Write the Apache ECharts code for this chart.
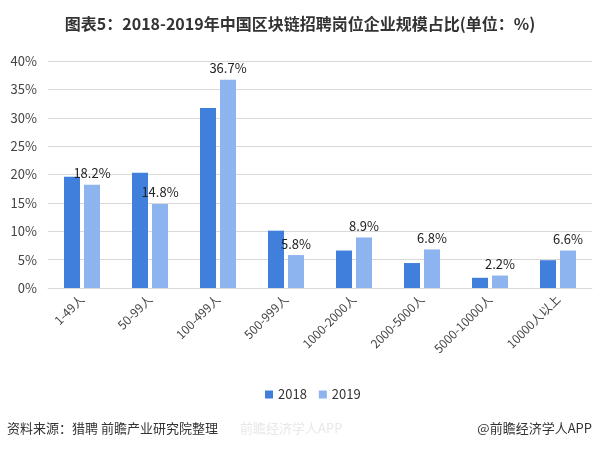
<!DOCTYPE html>
<html><head><meta charset="utf-8">
<script src="https://cdn.jsdelivr.net/npm/echarts@6/dist/echarts.min.js"></script>
<style>html,body{margin:0;padding:0;background:#fff}#c{width:600px;height:451px}</style>
</head><body><div id="c"></div>
<script>
var categories = ['1-49人','50-99人','100-499人','500-999人','1000-2000人','2000-5000人','5000-10000人','10000人以上'];
var values2018 = [19.6, 20.3, 31.7, 10.1, 6.6, 4.4, 1.8, 4.9];
var values2019 = [18.2, 14.8, 36.7, 5.8, 8.9, 6.8, 2.2, 6.6];
var yTicks = [0,5,10,15,20,25,30,35,40];
var font = '"Noto Sans CJK SC", "Noto Sans", sans-serif';
var chart = echarts.init(document.getElementById('c'));
chart.setOption({
  animation: false,
  backgroundColor: '#fff',
  title: [{
    text: '图表5：2018-2019年中国区块链招聘岗位企业规模占比(单位：%)',
    left: 'center', top: 11,
    textStyle: {fontFamily: font, fontSize: 16, fontWeight: 'bold', color: '#333'}
  }],
  graphic: [
    {type:'text', left: 7, top: 422, style:{text:'资料来源：猎聘 前瞻产业研究院整理', font:'13px "Noto Sans CJK SC"', fill:'#333'}},
    {type:'text', left: 240, top: 422, style:{text:'前瞻经济学人APP', font:'13px "Noto Sans CJK SC"', fill:'#e8e8e8'}},
    {type:'text', right: 8, top: 422, style:{text:'@前瞻经济学人APP', font:'13px "Noto Sans CJK SC"', fill:'#333'}}
  ],
  legend: {
    data: ['2018','2019'], top: 383, left: 260,
    itemWidth: 8, itemHeight: 8, itemGap: 12, icon: 'rect',
    textStyle: {fontFamily: font, fontSize: 13, color: '#333'}
  },
  grid: {left: 48, right: 8, top: 61, bottom: 163},
  xAxis: {
    type: 'category', data: categories,
    axisLine: {lineStyle: {color: '#d9d9d9'}},
    axisTick: {show: false},
    axisLabel: {rotate: 45, interval: 0, fontFamily: font, fontSize: 12, color: '#444', margin: 9}
  },
  yAxis: {
    type: 'value', min: 0, max: 40, interval: 5,
    axisLine: {show: false}, axisTick: {show: false},
    splitLine: {lineStyle: {color: '#d9d9d9'}},
    axisLabel: {formatter: function(v){return v+'%';}, fontFamily: font, fontSize: 13, color: '#444', margin: 11}
  },
  series: [
    {name: '2018', type: 'bar', data: values2018, barWidth: 16, barGap: '25%',
     itemStyle: {color: '#4080dc'}},
    {name: '2019', type: 'bar', data: values2019, barWidth: 16,
     itemStyle: {color: '#8db4ee'},
     label: {show: true, position: 'top', formatter: function(p){return p.value.toFixed(1)+'%';},
             fontFamily: font, fontSize: 13, color: '#222', distance: 5}}
  ]
});
</script></body></html>
